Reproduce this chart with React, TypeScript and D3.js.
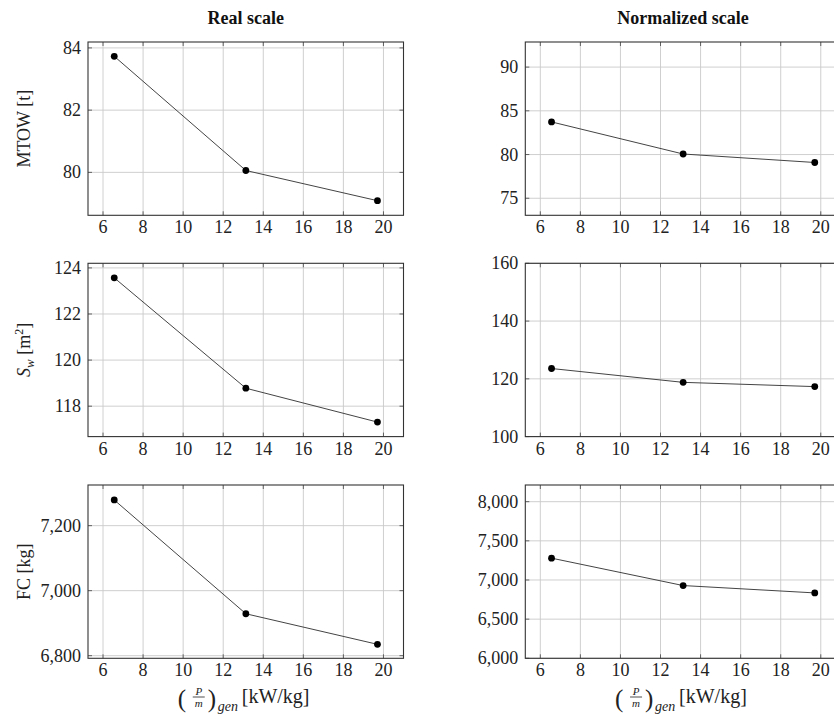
import React from "react";
import * as d3 from "d3";

const xValues = [6.56, 13.13, 19.7];
const mtow = [83.73, 80.06, 79.09];
const sw = [123.57, 118.78, 117.31];
const fc = [7279, 6929, 6835];

const xTicks = [6, 8, 10, 12, 14, 16, 18, 20];
const mtowRealTicks = [80, 82, 84];
const mtowNormTicks = [75, 80, 85, 90];
const swRealTicks = [118, 120, 122, 124];
const swNormTicks = [100, 120, 140, 160];
const fcRealTicks = [6800, 7000, 7200];
const fcNormTicks = [6000, 6500, 7000, 7500, 8000];

const colTitles = ["Real scale", "Normalized scale"];

const FONT = "Liberation Serif, DejaVu Serif, serif";

type PanelSpec = {
  values: number[];
  ticks: number[];
  domain: [number, number];
  fmt: (v: number) => string;
};

const fmtComma = d3.format(",");
const fmtInt = d3.format("d");

const rows: { real: PanelSpec; norm: PanelSpec }[] = [
  {
    real: { values: mtow, ticks: mtowRealTicks, domain: [78.62, 84.19], fmt: fmtInt },
    norm: { values: mtow, ticks: mtowNormTicks, domain: [73.05, 92.87], fmt: fmtInt },
  },
  {
    real: { values: sw, ticks: swRealTicks, domain: [116.68, 124.2], fmt: fmtInt },
    norm: { values: sw, ticks: swNormTicks, domain: [100, 160], fmt: fmtInt },
  },
  {
    real: { values: fc, ticks: fcRealTicks, domain: [6792, 7325], fmt: fmtComma },
    norm: { values: fc, ticks: fcNormTicks, domain: [6000, 8213], fmt: fmtComma },
  },
];

const rowTops = [42, 263.3, 485];
const panelH = 173.3;
const colLefts = [88, 525.3];
const panelW = 315.5;
const xDomain: [number, number] = [5.25, 21.0];

const txt = (size: number, extra: React.CSSProperties = {}): React.CSSProperties => ({
  fontFamily: FONT,
  fontSize: size,
  ...extra,
});

function Panel({ spec, left, top }: { spec: PanelSpec; left: number; top: number }) {
  const x = d3.scaleLinear().domain(xDomain).range([left, left + panelW]);
  const y = d3.scaleLinear().domain(spec.domain).range([top + panelH, top]);
  const line = d3
    .line<number>()
    .x((_, i) => x(xValues[i]))
    .y((d) => y(d));
  const tl = 4;
  const bottom = top + panelH;
  const right = left + panelW;
  return (
    <g>
      {xTicks.map((t) => (
        <line key={"gx" + t} x1={x(t)} x2={x(t)} y1={top} y2={bottom} stroke="#c9c9c9" strokeWidth={0.9} />
      ))}
      {spec.ticks.map((t) => (
        <line key={"gy" + t} x1={left} x2={right} y1={y(t)} y2={y(t)} stroke="#c9c9c9" strokeWidth={0.9} />
      ))}
      {xTicks.map((t) => (
        <g key={"tx" + t}>
          <line x1={x(t)} x2={x(t)} y1={bottom} y2={bottom - tl} stroke="#444" strokeWidth={0.8} />
          <line x1={x(t)} x2={x(t)} y1={top} y2={top + tl} stroke="#444" strokeWidth={0.8} />
          <text x={x(t)} y={bottom + 18} textAnchor="middle" style={txt(18)} fill="#222">
            {t}
          </text>
        </g>
      ))}
      {spec.ticks.map((t) => (
        <g key={"ty" + t}>
          <line x1={left} x2={left + tl} y1={y(t)} y2={y(t)} stroke="#444" strokeWidth={0.8} />
          <line x1={right} x2={right - tl} y1={y(t)} y2={y(t)} stroke="#444" strokeWidth={0.8} />
          <text x={left - 7} y={y(t) + 6} textAnchor="end" style={txt(18)} fill="#222">
            {spec.fmt(t)}
          </text>
        </g>
      ))}
      <rect x={left} y={top} width={panelW} height={panelH} fill="none" stroke="#333" strokeWidth={1.1} />
      <path d={line(spec.values) || ""} fill="none" stroke="#444" strokeWidth={1} />
      {spec.values.map((v, i) => (
        <circle key={"p" + i} cx={x(xValues[i])} cy={y(v)} r={3.4} fill="#000" />
      ))}
    </g>
  );
}

function XLabel({ cx, base }: { cx: number; base: number }) {
  return (
    <g fill="#222">
      <text x={cx - 68} y={base + 4} style={txt(25)}>(</text>
      <text x={cx - 47} y={base - 8.5} style={txt(11, { fontStyle: "italic" })} textAnchor="middle">P</text>
      <line x1={cx - 53} x2={cx - 41} y1={base - 6} y2={base - 6} stroke="#222" strokeWidth={0.8} />
      <text x={cx - 47} y={base + 4} style={txt(11, { fontStyle: "italic" })} textAnchor="middle">m</text>
      <text x={cx - 38} y={base + 4} style={txt(25)}>)</text>
      <text x={cx - 28} y={base + 8} style={txt(14, { fontStyle: "italic" })}>gen</text>
      <text x={cx - 4} y={base} style={txt(20)}>[kW/kg]</text>
    </g>
  );
}

function YLabel({ cx, cy, children }: { cx: number; cy: number; children: React.ReactNode }) {
  return (
    <text
      transform={`translate(${cx},${cy}) rotate(-90)`}
      textAnchor="middle"
      style={txt(18)}
      fill="#222"
    >
      {children}
    </text>
  );
}

export default function App() {
  return (
    <svg
      width={834}
      height={719}
      style={{ position: "absolute", left: 0, top: 0, background: "#fff" }}
    >
      <rect x={0} y={0} width={834} height={719} fill="#fff" />
      {colTitles.map((t, i) => (
        <text
          key={t}
          x={colLefts[i] + panelW / 2}
          y={24}
          textAnchor="middle"
          style={txt(18, { fontWeight: "bold" })}
          fill="#111"
        >
          {t}
        </text>
      ))}
      {rows.map((r, i) => (
        <g key={i}>
          <Panel spec={r.real} left={colLefts[0]} top={rowTops[i]} />
          <Panel spec={r.norm} left={colLefts[1]} top={rowTops[i]} />
        </g>
      ))}
      <YLabel cx={30} cy={rowTops[0] + panelH / 2}>MTOW [t]</YLabel>
      <YLabel cx={30} cy={rowTops[1] + panelH / 2}>
        <tspan style={{ fontStyle: "italic" }}>S</tspan>
        <tspan style={{ fontStyle: "italic", fontSize: 13 }} dy={4}>w</tspan>
        <tspan dy={-4}> [m</tspan>
        <tspan style={{ fontSize: 12 }} dy={-7}>2</tspan>
        <tspan dy={7}>]</tspan>
      </YLabel>
      <YLabel cx={30} cy={rowTops[2] + panelH / 2}>FC [kg]</YLabel>
      <XLabel cx={colLefts[0] + panelW / 2} base={703} />
      <XLabel cx={colLefts[1] + panelW / 2} base={703} />
    </svg>
  );
}
